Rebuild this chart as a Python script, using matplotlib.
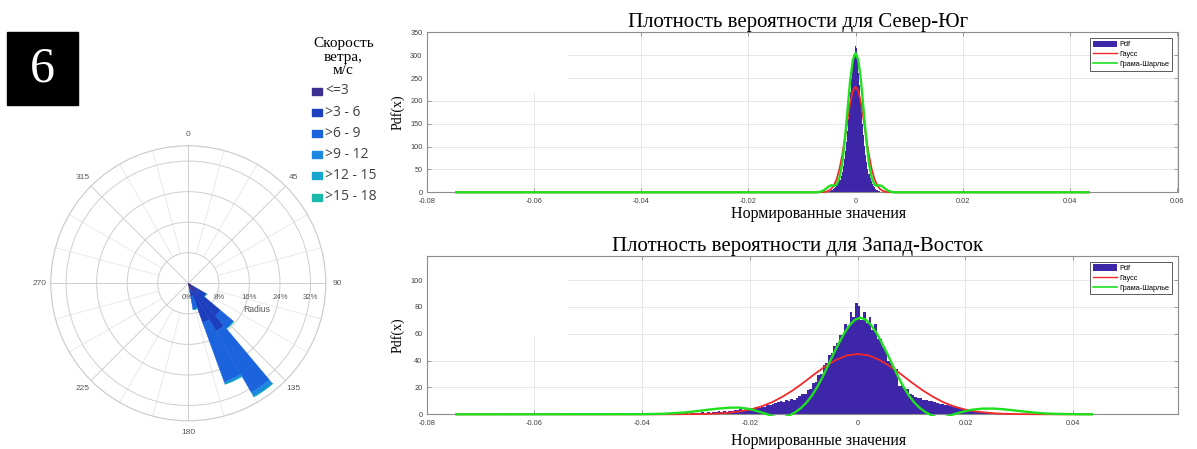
import numpy as np
import matplotlib
matplotlib.use("Agg")
import matplotlib.pyplot as plt
from matplotlib.patches import Rectangle, Patch
from matplotlib.lines import Line2D
from matplotlib.transforms import Bbox, TransformedBbox

plt.rcParams["font.family"] = ["Liberation Sans", "DejaVu Sans"]
SERIF = ["Liberation Serif", "DejaVu Serif"]

# ---- wind rose: frequency (%) per direction sector and speed class
rose_dirs = [125, 135, 145, 155, 165]
rose_classes = ["<=3", ">3 - 6", ">6 - 9", ">9 - 12", ">12 - 15", ">15 - 18"]
rose_le3 = [1.5, 2.5, 3.0, 2.0, 1.0]
rose_3_6 = [4.0, 8.5, 11.5, 9.0, 2.5]
rose_6_9 = [0.0, 4.5, 18.5, 16.5, 3.5]
rose_9_12 = [0.0, 0.0, 1.3, 0.6, 0.0]
rose_12_15 = [0.0, 0.0, 0.0, 0.0, 0.0]
rose_15_18 = [0.0, 0.0, 0.0, 0.0, 0.0]
rose_colors = ["#3b2f8f", "#1d3fbf", "#1b64dd", "#1c88e0", "#1aa5cf", "#1ab8a8"]
rose_rticks = [0, 8, 16, 24, 32]
rose_angles = [0, 45, 90, 135, 180, 225, 270, 315]

# ---- North-South pdf: histogram (bins of 0.0002 from -0.005) and fitted curves
ns_bin_lo, ns_bin_w = -0.005, 0.0002
ns_pdf = [2, 3, 4, 6, 8, 10, 12, 15, 18, 22, 28, 35, 45, 58, 72, 90, 110, 135,
          160, 190, 220, 250, 275, 300, 320, 315, 290, 262, 235, 205, 178, 150,
          125, 102, 82, 66, 52, 40, 31, 24, 18, 14, 11, 8, 6, 4, 3, 2, 1, 1]
ns_curve_x = [-0.0745, -0.0075, -0.007, -0.0065, -0.006, -0.0055, -0.005, -0.0045,
              -0.004, -0.0035, -0.003, -0.0025, -0.002, -0.0015, -0.001, -0.0005,
              0.0, 0.0005, 0.001, 0.0015, 0.002, 0.0025, 0.003, 0.0035, 0.004,
              0.0045, 0.005, 0.0055, 0.006, 0.0065, 0.007, 0.0075, 0.0435]
ns_gauss = [0, 0, 0, 0.2, 0.6, 1.5, 3.5, 7.8, 16, 30, 51, 81, 118, 159, 196, 222,
            231, 222, 196, 159, 118, 81, 51, 30, 16, 7.8, 3.5, 1.5, 0.6, 0.2, 0, 0, 0]
ns_gc = [0, 0, 0.3, 1.5, 4, 8, 13, 15.5, 14, 17, 32, 62, 115, 180, 245, 290,
         305, 290, 245, 180, 115, 62, 32, 17, 14, 15.5, 13, 8, 4, 1.5, 0.3, 0, 0]

# ---- West-East pdf
ew_bin_lo, ew_bin_w = -0.035, 0.0005
ew_pdf = [0.4, 0, 0.6, 0.3, 0.8, 0.5, 0.9, 0.4, 1.0, 0.7, 1.2, 0.8, 1.4, 1.0, 1.6, 1.3, 1.9, 1.5, 2.2, 1.8,
          2.4, 2.0, 2.8, 2.5, 3.2, 2.9, 3.6, 3.3, 4.1, 3.8,
          4.5, 4.2, 5.3, 5.0, 6.1, 5.8, 7.0, 6.6, 7.9, 8.4,
          8.9, 9.8, 9.4, 10.6, 10.2, 11.5, 11.0, 12.3, 13.5, 14.8,
          15.5, 18.0, 18.5, 23.0, 24.0, 29.5, 30.0, 36.5, 38.0, 44.0,
          45.5, 51.0, 53.5, 59.0, 58.5, 67.5, 66.0, 76.0, 72.5, 83.0,
          81.0, 70.5, 76.0, 68.0, 72.5, 62.5, 67.0, 56.5, 56.0, 50.5,
          48.0, 39.5, 38.5, 33.5, 33.5, 21.0, 22.0, 18.0, 18.5, 15.5,
          14.5, 13.0, 12.0, 12.5, 11.0, 10.5, 9.8, 10.2, 9.3, 8.7,
          8.0, 7.6, 7.1, 6.8, 6.3, 5.8, 5.4, 5.0, 4.5, 4.1,
          3.8, 3.4, 3.0, 2.6, 2.2, 1.9, 1.6, 1.3, 1.0, 0.8,
          0.6, 0.5, 0.4, 0.3, 0.3, 0.2, 0.2, 0.1, 0.1, 0.1]
ew_gauss_x = [-0.0745, -0.036, -0.032, -0.030, -0.028, -0.026, -0.024, -0.022, -0.020,
              -0.018, -0.016, -0.014, -0.012, -0.010, -0.008, -0.006, -0.004, -0.002,
              0.0, 0.002, 0.004, 0.006, 0.008, 0.010, 0.012, 0.014, 0.016, 0.018,
              0.020, 0.022, 0.024, 0.026, 0.028, 0.030, 0.032, 0.036, 0.0435]
ew_gauss = [0, 0, 0.1, 0.15, 0.3, 0.6, 1.2, 2.1, 3.5, 5.7, 8.8, 13.0, 18.0, 23.8, 30.0,
            35.8, 40.6, 43.9, 45.0, 43.9, 40.6, 35.8, 30.0, 23.8, 18.0, 13.0, 8.8, 5.7,
            3.5, 2.1, 1.2, 0.6, 0.3, 0.15, 0.1, 0, 0]
ew_gc_x = [-0.0745, -0.040, -0.036, -0.032, -0.030, -0.028, -0.026, -0.024, -0.022,
           -0.020, -0.018, -0.0165, -0.0155, -0.0145, -0.0135, -0.0125, -0.0115,
           -0.0105, -0.0095, -0.0085, -0.0075, -0.0065, -0.0055, -0.0045, -0.0035,
           -0.0025, -0.0015, -0.0005, 0.0005, 0.0015, 0.0025, 0.0035, 0.0045, 0.0055,
           0.0065, 0.0075, 0.0085, 0.0095, 0.0105, 0.0115, 0.0125, 0.0135, 0.0145,
           0.0155, 0.0165, 0.0175, 0.019, 0.021, 0.023, 0.025, 0.027, 0.029, 0.031,
           0.033, 0.035, 0.037, 0.041, 0.0435]
ew_gc = [0, 0.1, 0.4, 1.4, 2.3, 3.3, 4.2, 4.9, 5.0, 3.9, 1.6,
         -0.4, -1.8, -2.5, -2.0, -0.4, 1.8, 4.8, 8.8, 14, 20.5, 28, 36.5, 45, 53,
         60.5, 66.5, 70.5, 72,
         70.5, 66.5, 60.5, 53, 45, 36.5, 28, 20.5, 14, 8.8, 4.8, 1.8, -0.4, -2.0,
         -2.5, -1.8, -0.4,
         1.4, 3.3, 4.2, 4.3, 3.8, 2.9, 2.0, 1.2, 0.6, 0.3, 0.05, 0]

x_ticks = [-0.08, -0.06, -0.04, -0.02, 0, 0.02, 0.04, 0.06]
x_tick_labels = ["-0.08", "-0.06", "-0.04", "-0.02", "0", "0.02", "0.04", "0.06"]
legend_labels = ["Pdf", "Гаусс", "Грама-Шарлье"]

HIST_C, RED_C, GREEN_C = "#3e26a8", "#f02a2a", "#1fe01f"

W, H = 1197, 449
def fx(px):
    return px / W
def fy(py):
    return 1 - py / H

fig = plt.figure(figsize=(W / 100, H / 100), dpi=100)

# panel number
fig.patches.append(Rectangle((fx(7), fy(105)), 71 / W, 73 / H,
                             transform=fig.transFigure, color="black"))
fig.text(fx(42.5), fy(82), "6", color="white", fontsize=36, family=SERIF,
         ha="center", va="baseline")

# wind rose legend
fig.text(fx(343.5), fy(57), "Скорость\nветра,\nм/с", ha="center", va="center",
         family=SERIF, fontsize=11, linespacing=1.05)
for i, (lab, c) in enumerate(zip(rose_classes, rose_colors)):
    y = 91 + i * 21.2
    fig.patches.append(Rectangle((fx(312), fy(y + 3.5)), 10 / W, 7 / H,
                                 transform=fig.transFigure, color=c))
    fig.text(fx(325), fy(y), lab, ha="left", va="center", fontsize=10,
             color="#404040", family=["Open Sans", "DejaVu Sans"])

# ---- wind rose
R = 137.5
ax = fig.add_axes([fx(188.3 - R), fy(283.3 + R), 2 * R / W, 2 * R / H], projection="polar")
ax.set_theta_zero_location("N")
ax.set_theta_direction(-1)
ax.set_rlim(0, 36)
ax.set_rgrids([8, 16, 24, 32], labels=[""] * 4)
ax.set_thetagrids(rose_angles, labels=[""] * len(rose_angles))
ax.grid(True, color="#cfcfcf", lw=0.7)
ax.spines["polar"].set_color("#c8c8c8")
ax.spines["polar"].set_linewidth(0.8)
for a in range(0, 360, 15):
    if a % 45:
        ax.plot([np.deg2rad(a)] * 2, [8, 36], color="#e6e6e6", lw=0.6, zorder=0.6)

theta = np.deg2rad(rose_dirs)
bottom = np.zeros(len(rose_dirs))
for vals, c in zip([rose_le3, rose_3_6, rose_6_9, rose_9_12, rose_12_15, rose_15_18],
                   rose_colors):
    ax.bar(theta, vals, width=np.deg2rad(10), bottom=bottom, color=c,
           edgecolor=c, lw=0.3, zorder=3)
    bottom += np.array(vals)

for a in rose_angles:
    ax.text(np.deg2rad(a), 39.0, str(a), ha="center", va="center", fontsize=6,
            color="#595959", clip_on=False)
for r in rose_rticks:
    ax.annotate(f"{r}%", xy=(np.pi / 2, r), xytext=(-1 if r == 0 else 0, -10),
                textcoords="offset points", ha="center", va="center",
                fontsize=5.6, color="#595959", annotation_clip=False)
ax.annotate("Radius", xy=(np.pi / 2, 18.0), xytext=(0, -18.7), textcoords="offset points",
            ha="center", va="center", fontsize=6.2, color="#595959", annotation_clip=False)


def pdf_panel(rect, title, edges_lo, bin_w, pdf, gx, gy, cx, cy, ylim, yticks,
              xmax, xt, xtl, mask_y, title_x, xlab_y):
    ax = fig.add_axes(rect)
    edges = edges_lo + bin_w * np.arange(len(pdf) + 1)
    ax.stairs(pdf, edges, fill=True, color=HIST_C, lw=0, zorder=1.5)
    clip = TransformedBbox(Bbox([[0, -0.008], [1, 1]]), ax.transAxes)
    l1, = ax.plot(gx, gy, color=RED_C, lw=1.3, zorder=3)
    l2, = ax.plot(cx, cy, color=GREEN_C, lw=1.7, zorder=3.2)
    l1.set_clip_box(clip)
    l2.set_clip_box(clip)
    ax.set_xlim(-0.08, xmax)
    ax.set_ylim(*ylim)
    ax.set_yticks(yticks)
    ax.set_xticks(xt)
    ax.set_xticklabels(xtl)
    ax.set_axisbelow(True)
    ax.grid(True, color="#e3e3e3", lw=0.6)
    ax.add_patch(Rectangle((0, mask_y), 0.188, 1 - mask_y - 0.004, transform=ax.transAxes,
                           facecolor="white", edgecolor="none", zorder=0.8))
    ax.tick_params(direction="in", length=3, width=0.6, color="#8c8c8c",
                   labelcolor="#404040", labelsize=5.3, top=True, right=True)
    ax.tick_params(axis="x", pad=4)
    ax.tick_params(axis="y", pad=3)
    for s in ax.spines.values():
        s.set_color("#8c8c8c")
        s.set_linewidth(0.8)
    ax.set_title(title, family=SERIF, fontsize=15, pad=3.5, x=title_x)
    ax.set_xlabel("Нормированные значения", family=SERIF, fontsize=11.5)
    ax.xaxis.set_label_coords(0.521, xlab_y)
    ax.set_ylabel("Pdf(x)", family=SERIF, fontsize=10)
    ax.yaxis.set_label_coords(-0.029, 0.5)
    handles = [Patch(facecolor=HIST_C, edgecolor="none"),
               Line2D([], [], color=RED_C, lw=1.0),
               Line2D([], [], color=GREEN_C, lw=1.2)]
    leg = ax.legend(handles, legend_labels, loc="upper right", fontsize=5.3,
                    fancybox=False, framealpha=1, edgecolor="#404040",
                    handlelength=3.3, handleheight=0.9, labelspacing=0.3,
                    borderpad=0.35, handletextpad=0.4, borderaxespad=0.8)
    leg.get_frame().set_linewidth(0.6)
    return ax


pdf_panel([fx(426.7), fy(192.3), 751.6 / W, 160 / H],
          "Плотность вероятности для Север-Юг",
          ns_bin_lo, ns_bin_w, ns_pdf, ns_curve_x, ns_gauss, ns_curve_x, ns_gc,
          (0, 350), range(0, 351, 50), 0.0602, x_ticks, x_tick_labels,
          0.627, 0.494, -0.088)

pdf_panel([fx(426.7), fy(414.3), 751.6 / W, 158.3 / H],
          "Плотность вероятности для Запад-Восток",
          ew_bin_lo, ew_bin_w, ew_pdf, ew_gauss_x, ew_gauss, ew_gc_x, ew_gc,
          (0, 118), range(0, 101, 20), 0.0595, x_ticks[:-1], x_tick_labels[:-1],
          0.49, 0.494, -0.12)

fig.savefig("out.png", dpi=100)
